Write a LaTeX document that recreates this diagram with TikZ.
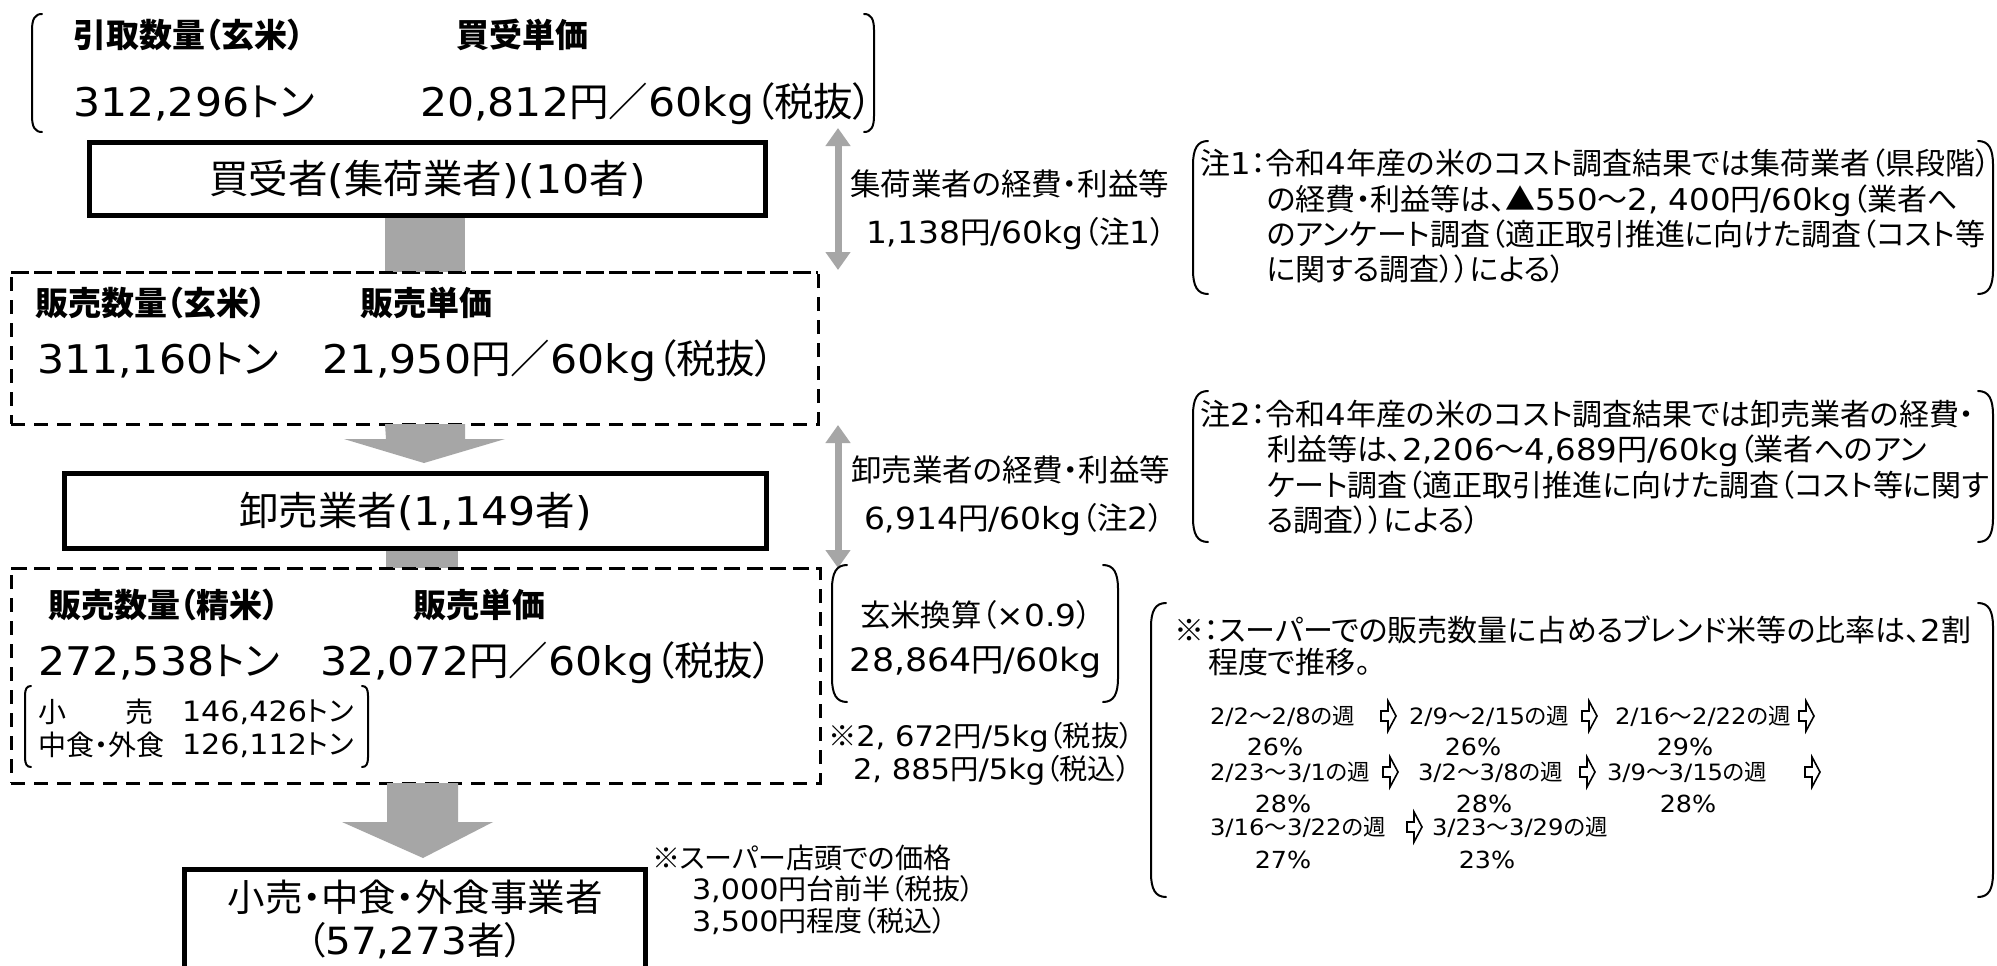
\documentclass[tikz,border=0pt]{standalone}
\usepackage{fontspec}
\usetikzlibrary{arrows.meta,calc}
\setmainfont{DejaVu Sans}[FakeStretch=1.08]
\newfontfamily\jpfamily{Noto Sans CJK JP}[NFSSFamily=notojp,RawFeature=+palt]
\newfontfamily\lafamily{DejaVu Sans}[NFSSFamily=dejavu,FakeStretch=1.08]
\XeTeXinterchartokenstate=1
\newXeTeXintercharclass\JPclass
\makeatletter
\count@="3000
\loop\XeTeXcharclass\count@=\JPclass\ifnum\count@<"9FFF\advance\count@ by 1 \repeat
\count@="FF00
\loop\XeTeXcharclass\count@=\JPclass\ifnum\count@<"FFEF\advance\count@ by 1 \repeat
\makeatother
\XeTeXcharclass"203B=\JPclass
\XeTeXcharclass"25B2=\JPclass
\newcommand\tojp{\fontfamily{notojp}\selectfont}
\newcommand\tola{\fontfamily{dejavu}\selectfont}
\XeTeXinterchartoks 0 \JPclass = {\tojp}
\XeTeXinterchartoks 4095 \JPclass = {\tojp}
\XeTeXinterchartoks \JPclass 0 = {\tola}
\XeTeXinterchartoks 4095 0 = {\tola}
\definecolor{agray}{RGB}{166,166,166}
\newcommand\mybkt[5]{%
  \draw[brk] (#1+#5,#2) .. controls (#1+0.3*#5,#2) and (#1,#2+0.5*#5) .. (#1,#2+1.6*#5) -- (#1,#4-1.6*#5) .. controls (#1,#4-0.5*#5) and (#1+0.3*#5,#4) .. (#1+#5,#4);
  \draw[brk] (#3-#5,#2) .. controls (#3-0.3*#5,#2) and (#3,#2+0.5*#5) .. (#3,#2+1.6*#5) -- (#3,#4-1.6*#5) .. controls (#3,#4-0.5*#5) and (#3-0.3*#5,#4) .. (#3-#5,#4);}
\newcommand\warr[2]{%
  \draw[line width=1.6pt,fill=white,line join=miter] (#1-7,#2-5) -- (#1,#2-5) -- (#1,#2-15) -- (#1+8,#2) -- (#1,#2+15) -- (#1,#2+5) -- (#1-7,#2+5) -- cycle;}
\tikzset{
  every node/.style={inner sep=0pt,outer sep=0pt},
  hdr/.style={font=\fontsize{33}{38}\selectfont\bfseries,anchor=west},
  num/.style={font=\fontsize{39.5}{46}\selectfont,anchor=west},
  ttl/.style={draw,line width=5pt,fill=white,font=\fontsize{39.5}{46}\selectfont},
  dbox/.style={draw,line width=3pt,dash pattern=on 14pt off 9pt},
  brk/.style={line width=2pt,line cap=round},
  blk/.style={fill=agray},
  dbl/.style={draw=agray,line width=7pt,arrows={Triangle[width=24pt,length=18pt]-Triangle[width=24pt,length=18pt]}},
  rt/.style={font=\fontsize{30.5}{35}\selectfont,anchor=west,text height=23pt,text depth=6pt},
  nt/.style={font=\fontsize{30}{35}\selectfont,anchor=west,text height=22pt,text depth=6pt},
  wk/.style={font=\fontsize{22.5}{26}\selectfont,anchor=west},
  pc/.style={font=\fontsize{23.5}{27}\selectfont},
  sb/.style={font=\fontsize{28}{31}\selectfont,anchor=west},
  sm/.style={font=\fontsize{28.3}{32}\selectfont,anchor=west},
  st/.style={font=\fontsize{28}{32}\selectfont,anchor=west},
}
\begin{document}
\begin{tikzpicture}[x=1pt,y=-1pt]
\useasboundingbox[fill=white] (0,0) rectangle (1997,966);
% boxes (geometry)
\node[dbox,minimum width=807pt,minimum height=152pt] (d1) at (414.5,348) {};
\node[dbox,minimum width=809pt,minimum height=215pt] (d2) at (415.5,675.5) {};
\coordinate (xa1) at (385,0); \coordinate (xa2) at (465,0);
\coordinate (xc1) at (386,0); \coordinate (xc2) at (458,0);
\coordinate (xd1) at (387,0); \coordinate (xd2) at (458,0);
\node[ttl,minimum width=676pt,minimum height=73pt] (b1) at (427.5,179) {買受者(集荷業者)(10者)};
\node[ttl,minimum width=702pt,minimum height=75pt] (b2) at (415.5,511) {卸売業者(1,149者)};
\node[ttl,minimum width=461pt,minimum height=130pt] (b3) at (415,934.75) {};
% block arrows
\fill[blk] (xa1 |- b1.south) rectangle (xa2 |- d1.north);
\fill[blk] (xa1 |- d1.south) -- (386,439) -- (344,439) -- (424,463) -- (505,439) -- (465,439) -- (xa2 |- d1.south) -- cycle;
\fill[blk] (xc1 |- b2.south) rectangle (xc2 |- d2.north);
\fill[blk] (xd1 |- d2.south) -- (387,822) -- (342,822) -- (423,858) -- (493,822) -- (458,822) -- (xd2 |- d2.south) -- cycle;
% redraw borders over stems
\draw[line width=5pt] (b1.south west) -- (b1.south east);
\draw[line width=5pt] (b2.south west) -- (b2.south east);
\draw[dbox] (d1.north west) -- (d1.north east);
\draw[dbox] (d2.north west) -- (d2.north east);
\node[font=\fontsize{37.5}{43}\selectfont,align=center] (b3t) at (415,919) {小売・中食・外食事業者\\（57,273者）};
% top bracket
\mybkt{32}{14}{874}{132}{10}
\node[hdr] (h1) at (73,35) {引取数量（玄米）};
\node[hdr] (h2) at (456,35) {買受単価};
\node[num] (n1) at (73,104) {312,296トン};
\node[num] (n2) at (420,104) {20,812円／60kg（税抜）};
% dashed box 1
\node[hdr] (h3) at (35,303) {販売数量（玄米）};
\node[hdr] (h4) at (360,303) {販売単価};
\node[num] (n3) at (37,361) {311,160トン};
\node[num] (n4) at (322,361) {21,950円／60kg（税抜）};
% dashed box 2
\node[hdr] (h5) at (48,605) {販売数量（精米）};
\node[hdr] (h6) at (413,605) {販売単価};
\node[num] (n5) at (38,663) {272,538トン};
\node[num] (n6) at (320,663) {32,072円／60kg（税抜）};
\mybkt{25}{686}{368}{767}{6}
\node[sb] (s1) at (38,712) {小};
\node[sb] (s2) at (125,712) {売};
\node[sb] (s3) at (182,712) {146,426トン};
\node[sb] (s4) at (38,745) {中食・外食};
\node[sb] (s5) at (182,745) {126,112トン};
% store note
\node[st] (p1) at (652,858) {※スーパー店頭での価格};
\node[st] (p2) at (692,889) {3,000円台前半（税抜）};
\node[st] (p3) at (692,921) {3,500円程度（税込）};
% double arrows
\coordinate (u1) at (838,128); \coordinate (u2) at (838,270);
\coordinate (u3) at (838,425); \coordinate (u4) at (838,568);
\draw[dbl] (u1) -- (u2);
\draw[dbl] (u3) -- (u4);
\node[rt] (r1) at (850,187) {集荷業者の経費・利益等};
\node[rt] (r2) at (866,235) {1,138円/60kg（注1）};
\node[rt] (r3) at (851,473) {卸売業者の経費・利益等};
\node[rt] (r4) at (864,521) {6,914円/60kg（注2）};
% note 1
\mybkt{1193}{141}{1993}{294}{15}
\node[nt] (m1) at (1200,166) {注1：令和4年産の米のコスト調査結果では集荷業者（県段階）};
\node[nt] (m2) at (1267,202) {の経費・利益等は、▲550～2, 400円/60kg（業者へ};
\node[nt] (m3) at (1267,237) {のアンケート調査（適正取引推進に向けた調査（コスト等};
\node[nt] (m4) at (1267,272) {に関する調査））による）};
% note 2
\mybkt{1193}{391}{1993}{542}{15}
\node[nt] (q1) at (1200,417) {注2：令和4年産の米のコスト調査結果では卸売業者の経費・};
\node[nt] (q2) at (1267,452) {利益等は、2,206～4,689円/60kg（業者へのアン};
\node[nt] (q3) at (1267,488) {ケート調査（適正取引推進に向けた調査（コスト等に関す};
\node[nt] (q4) at (1267,523) {る調査））による）};
% genmai box
\mybkt{832}{565}{1118}{702}{15}
\node[font=\fontsize{30.4}{34}\selectfont] (g1) at (976,615) {玄米換算（×0.9）};
\node[font=\fontsize{32.2}{36}\selectfont] (g2) at (976,662) {28,864円/60kg};
\node[sm] (k1) at (828,737) {※2, 672円/5kg（税抜）};
\node[sm] (k2) at (853,770) {2, 885円/5kg（税込）};
% blend box
\mybkt{1151}{603}{1993}{897}{15}
\node[nt] (w0) at (1174,633) {※：スーパーでの販売数量に占めるブレンド米等の比率は、2割};
\node[nt] (w00) at (1208,665) {程度で推移。};
\node[wk] (a1) at (1210,716) {2/2～2/8の週};
\node[wk] (a2) at (1409,716) {2/9～2/15の週};
\node[wk] (a3) at (1615,716) {2/16～2/22の週};
\warr{1388}{716}\warr{1589}{716}\warr{1806}{716}
\node[pc] (a4) at (1275,747) {26\%};
\node[pc] (a5) at (1473,747) {26\%};
\node[pc] (a6) at (1685,747) {29\%};
\node[wk] (c1) at (1210,772) {2/23～3/1の週};
\node[wk] (c2) at (1418,772) {3/2～3/8の週};
\node[wk] (c3) at (1607,772) {3/9～3/15の週};
\warr{1390}{772}\warr{1587}{772}\warr{1812}{772}
\node[pc] (c4) at (1283,804) {28\%};
\node[pc] (c5) at (1484,804) {28\%};
\node[pc] (c6) at (1688,804) {28\%};
\node[wk] (e1) at (1210,827) {3/16～3/22の週};
\node[wk] (e2) at (1432,827) {3/23～3/29の週};
\warr{1414}{827}
\node[pc] (e4) at (1283,860) {27\%};
\node[pc] (e5) at (1487,860) {23\%};
\end{tikzpicture}
\end{document}
